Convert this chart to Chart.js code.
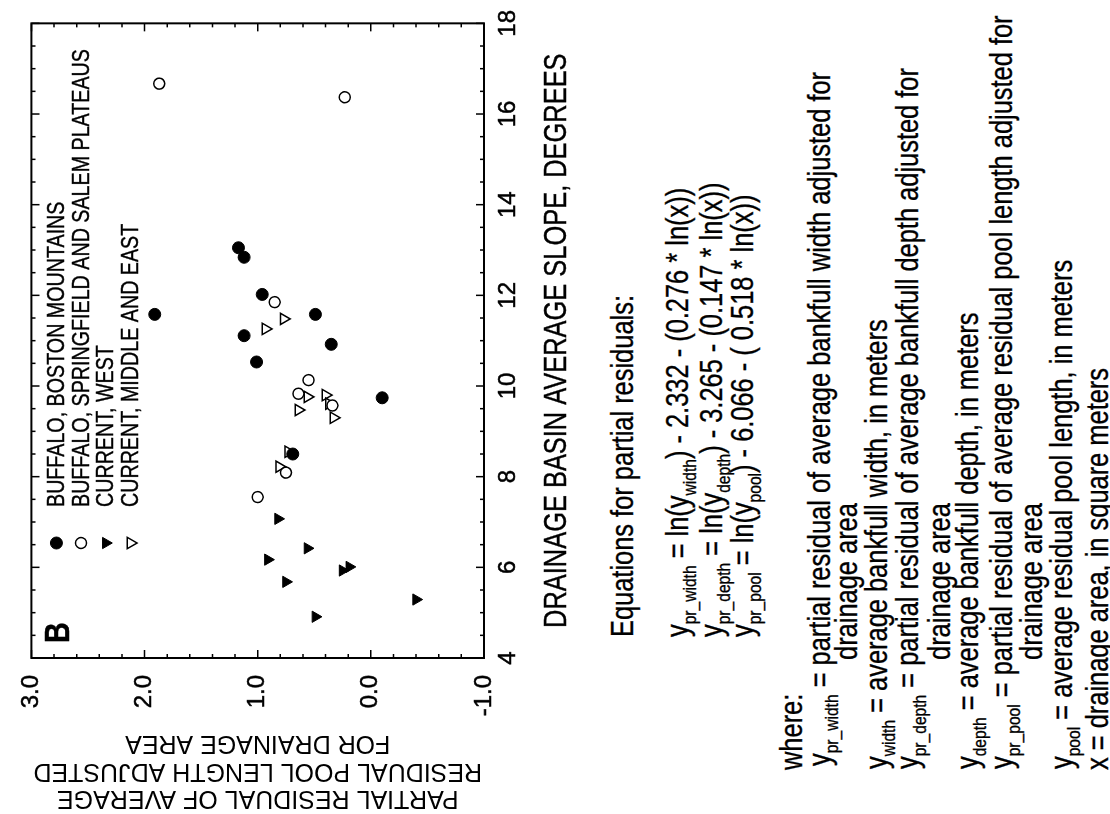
<!DOCTYPE html>
<html>
<head>
<meta charset="utf-8">
<script src="https://cdn.jsdelivr.net/npm/chart.js@4"></script>
<style>
  html, body { margin: 0; padding: 0; background: #fff; overflow: hidden; }
  body { width: 1110px; height: 814px; position: relative; }
  #page {
    position: absolute; left: 0; top: 0; width: 814px; height: 1110px;
    transform-origin: 0 0; transform: translate(0, 814px) rotate(-90deg);
    font-family: "Liberation Sans", Arial, Helvetica, sans-serif; color: #000;
  }
  #myChart { position: absolute; left: 0; top: 0; }
  /* condensed lettering: regular face squeezed sideways */
  .ln {
    position: absolute; white-space: nowrap; font-size: 31px; height: 30px; line-height: 30px;
    transform: scaleX(0.82); transform-origin: 0 50%;
    -webkit-text-stroke: 0.35px #000;
  }
  .s { font-size: 19px; position: relative; top: 8px; }
</style>
</head>
<body>
<div id="page">
  <canvas id="myChart" width="814" height="600"></canvas>
  <div class="ln" style="left:177px; top:608px">Equations for partial residuals:</div>
  <div class="ln" style="left:177px; top:663px">y<span class="s">pr_width</span> = ln(y<span class="s">width</span>) - 2.332 - (0.276 * ln(x))</div>
  <div class="ln" style="left:177px; top:697px">y<span class="s">pr_depth</span> = ln(y<span class="s">depth</span>) - 3.265 - (0.147 * ln(x))</div>
  <div class="ln" style="left:177px; top:728px">y<span class="s">pr_pool</span> = ln(y<span class="s">pool</span>) - 6.066 - ( 0.518 * ln(x))</div>

  <div class="ln" style="left:44px; top:777px">where:</div>
  <div class="ln" style="left:48px; top:805px">y<span class="s">pr_width</span> = partial residual of average bankfull width adjusted for</div>
  <div class="ln" style="left:154px; top:832px">drainage area</div>
  <div class="ln" style="left:45px; top:862px">y<span class="s">width</span> = average bankfull width, in meters</div>
  <div class="ln" style="left:45px; top:893px">y<span class="s">pr_depth</span> = partial residual of average bankfull depth adjusted for</div>
  <div class="ln" style="left:154px; top:925px">drainage area</div>
  <div class="ln" style="left:45px; top:953px">y<span class="s">depth</span> = average bankfull depth, in meters</div>
  <div class="ln" style="left:45px; top:987px">y<span class="s">pr_pool</span> = partial residual of average residual pool length adjusted for</div>
  <div class="ln" style="left:154px; top:1017px">drainage area</div>
  <div class="ln" style="left:45px; top:1047px">y<span class="s">pool</span> = average residual pool length, in meters</div>
  <div class="ln" style="left:44px; top:1083px">x = drainage area, in square meters</div>
</div>
<script>
// drainage basin slope (degrees) and partial residual of pool length
const bostonSlope = [13.05, 12.84, 12.02, 11.58, 11.58, 11.11, 10.92, 10.53, 9.74, 8.50];
const bostonResid = [1.17, 1.12, 0.96, 1.91, 0.49, 1.12, 0.35, 1.01, -0.10, 0.69];
const plateauSlope = [16.67, 16.37, 11.85, 10.13, 9.83, 9.57, 8.09, 7.55];
const plateauResid = [1.87, 0.23, 0.85, 0.55, 0.64, 0.34, 0.75, 1.00];
const westSlope = [7.07, 6.42, 6.17, 6.01, 5.93, 5.68, 5.29, 4.91];
const westResid = [0.82, 0.56, 0.91, 0.19, 0.25, 0.75, -0.40, 0.49];
const eastSlope = [11.48, 11.26, 9.80, 9.76, 9.61, 9.47, 9.30, 8.55, 8.22];
const eastResid = [0.77, 0.93, 0.40, 0.56, 0.37, 0.64, 0.33, 0.73, 0.81];

const seriesNames = [
  "BUFFALO, BOSTON MOUNTAINS",
  "BUFFALO, SPRINGFIELD AND SALEM PLATEAUS",
  "CURRENT, WEST",
  "CURRENT, MIDDLE AND EAST",
];
const xTicks = [4, 6, 8, 10, 12, 14, 16, 18];
const yTicks = [-1, 0, 1, 2, 3];
const xTitle = "DRAINAGE BASIN AVERAGE SLOPE, DEGREES";
const yTitle = ["PARTIAL RESIDUAL OF AVERAGE", "RESIDUAL POOL LENGTH ADJUSTED", "FOR DRAINAGE AREA"];
const panelLetter = "B";

const fontFamily = '"Liberation Sans", Arial, Helvetica, sans-serif';

function pairs(xs, ys) {
  return xs.map((v, i) => ({ x: v, y: ys[i] }));
}

// squeezed text, stands in for a narrow typeface
function narrowText(ctx, text, x, y, font, align) {
  ctx.save();
  ctx.translate(x, y);
  ctx.scale(0.82, 1);
  ctx.font = font;
  ctx.textAlign = align;
  ctx.textBaseline = "middle";
  ctx.fillStyle = "#000";
  ctx.strokeStyle = "#000";
  ctx.lineWidth = 0.4;
  ctx.fillText(text, 0, 0);
  ctx.strokeText(text, 0, 0);
  ctx.restore();
}

Chart.defaults.font.family = fontFamily;
Chart.defaults.color = "#000";

// box, inward tick marks, x title, legend and panel letter
const framePlugin = {
  id: "frame",
  afterDraw(chart) {
    const ctx = chart.ctx, a = chart.chartArea, x = chart.scales.x, y = chart.scales.y;
    ctx.save();
    ctx.strokeStyle = "#000";
    ctx.lineWidth = 1.5;
    ctx.beginPath();
    for (let i = 0; i <= 28; i++) {
      const v = 4 + i * 0.5, px = x.getPixelForValue(v), len = i % 4 === 0 ? 8 : 4;
      ctx.moveTo(px, a.bottom); ctx.lineTo(px, a.bottom - len);
      ctx.moveTo(px, a.top); ctx.lineTo(px, a.top + len);
    }
    for (let i = 0; i <= 20; i++) {
      const v = -1 + i * 0.2, py = y.getPixelForValue(v), len = i % 5 === 0 ? 8 : 4;
      ctx.moveTo(a.left, py); ctx.lineTo(a.left + len, py);
      ctx.moveTo(a.right, py); ctx.lineTo(a.right - len, py);
    }
    ctx.stroke();
    ctx.lineWidth = 2;
    ctx.strokeRect(a.left, a.top, a.right - a.left, a.bottom - a.top);

    narrowText(ctx, xTitle, (a.left + a.right) / 2, a.bottom + 73, "31px " + fontFamily, "center");
    narrowText(ctx, panelLetter, a.left + 15, a.top + 28, "bold 35px " + fontFamily, "left");

    chart.data.datasets.forEach((ds, i) => {
      const ly = a.top + 25 + i * 24.7;
      ctx.fillStyle = ds.backgroundColor;
      ctx.strokeStyle = ds.borderColor;
      ctx.lineWidth = ds.borderWidth;
      Chart.helpers.drawPoint(ctx, {
        pointStyle: ds.pointStyle, radius: ds.pointRadius,
        rotation: ds.rotation || 0, borderWidth: ds.borderWidth,
      }, a.left + 115, ly);
      narrowText(ctx, ds.label, a.left + 151, ly + 1, "24px " + fontFamily, "left");
    });
    ctx.restore();
  },
};

new Chart(document.getElementById("myChart").getContext("2d"), {
  type: "scatter",
  data: {
    datasets: [
      {
        label: seriesNames[0], data: pairs(bostonSlope, bostonResid),
        pointStyle: "circle", pointRadius: 6, borderWidth: 1,
        backgroundColor: "#000", borderColor: "#000",
      },
      {
        label: seriesNames[1], data: pairs(plateauSlope, plateauResid),
        pointStyle: "circle", pointRadius: 5.5, borderWidth: 1.5,
        backgroundColor: "#fff", borderColor: "#000",
      },
      {
        label: seriesNames[2], data: pairs(westSlope, westResid),
        pointStyle: "triangle", rotation: 180, pointRadius: 6.5, borderWidth: 1,
        backgroundColor: "#000", borderColor: "#000",
      },
      {
        label: seriesNames[3], data: pairs(eastSlope, eastResid),
        pointStyle: "triangle", rotation: 180, pointRadius: 6.5, borderWidth: 1.5,
        backgroundColor: "#fff", borderColor: "#000",
      },
    ],
  },
  options: {
    responsive: false,
    animation: false,
    devicePixelRatio: 1,
    layout: { padding: { top: 26, right: 21, left: 0, bottom: 0 } },
    plugins: { legend: { display: false }, tooltip: { enabled: false } },
    scales: {
      x: {
        type: "linear", min: 4, max: 18,
        afterBuildTicks: (s) => { s.ticks = xTicks.map((v) => ({ value: v })); },
        afterFit: (s) => { s.height = 116; },
        grid: { display: false, drawTicks: false },
        border: { display: false },
        ticks: { font: { size: 24 }, padding: 10, maxRotation: 0, textStrokeColor: "#000", textStrokeWidth: 0.5 },
      },
      y: {
        type: "linear", min: -1, max: 3,
        afterBuildTicks: (s) => { s.ticks = yTicks.map((v) => ({ value: v })); },
        afterFit: (s) => { s.width = 156; },
        grid: { display: false, drawTicks: false },
        border: { display: false },
        ticks: {
          font: { size: 24 }, padding: 17, textStrokeColor: "#000", textStrokeWidth: 0.5,
          callback: (v) => v.toFixed(1),
        },
        title: {
          display: true, text: yTitle, font: { size: 25, lineHeight: 1.1 },
          padding: { top: 2, bottom: 0 },
        },
      },
    },
  },
  plugins: [framePlugin],
});
</script>
</body>
</html>
